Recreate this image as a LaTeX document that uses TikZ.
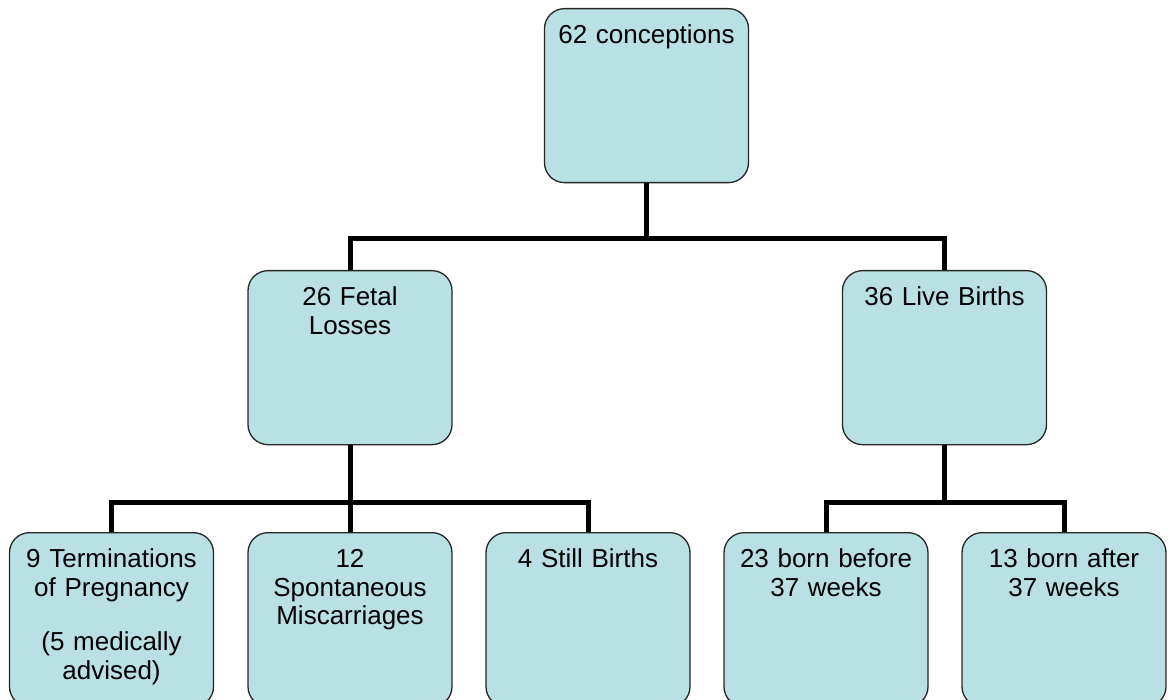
\documentclass[tikz,border=0pt]{standalone}
\usepackage{fontspec}
\setmainfont{Liberation Sans}
\definecolor{boxfill}{RGB}{185,224,227}

\begin{document}
\begin{tikzpicture}[x = 1pt, y = -1pt,
        box/.style = {draw = black!85, line width = 1.3pt, fill = boxfill,
            rounded corners = 20pt, anchor = north, inner sep = 0pt,
            text width = 204pt, align = center,
            text height = 35pt, text depth = 139pt,
            font = \fontsize{26}{28.5}\selectfont},
        conn/.style = {black, line width = 5pt}]
    \useasboundingbox (0,0) rectangle (1170,700);

    % top
    \node (concep) [box] at (646.5,8) {62 conceptions};

    % second row
    \node (fetal) [box] at (350,270) {26 Fetal\\Losses};
    \node (live)  [box] at (944.5,270) {36 Live Births};

    % third row
    \node (termin) [box] at (111.5,532) {9 Terminations\\of Pregnancy\\[26pt](5 medically\\advised)};
    \node (spont)  [box] at (350,532) {12\\Spontaneous\\Miscarriages};
    \node (still)  [box] at (588,532) {4 Still Births};
    \node (early)  [box] at (826,532) {23 born before\\37 weeks};
    \node (late)   [box] at (1064,532) {13 born after\\37 weeks};

    \draw[conn] (concep.south) -- ++(0,55) coordinate (j1);
    \draw[conn] (fetal.north) |- (j1) -| (live.north);

    \draw[conn] (fetal.south) -- ++(0,57) coordinate (j2);
    \draw[conn] (termin.north) |- (j2) -| (still.north);
    \draw[conn] (j2) -- (spont.north);

    \draw[conn] (live.south) -- ++(0,57) coordinate (j3);
    \draw[conn] (early.north) |- (j3) -| (late.north);

\end{tikzpicture}
\end{document}
